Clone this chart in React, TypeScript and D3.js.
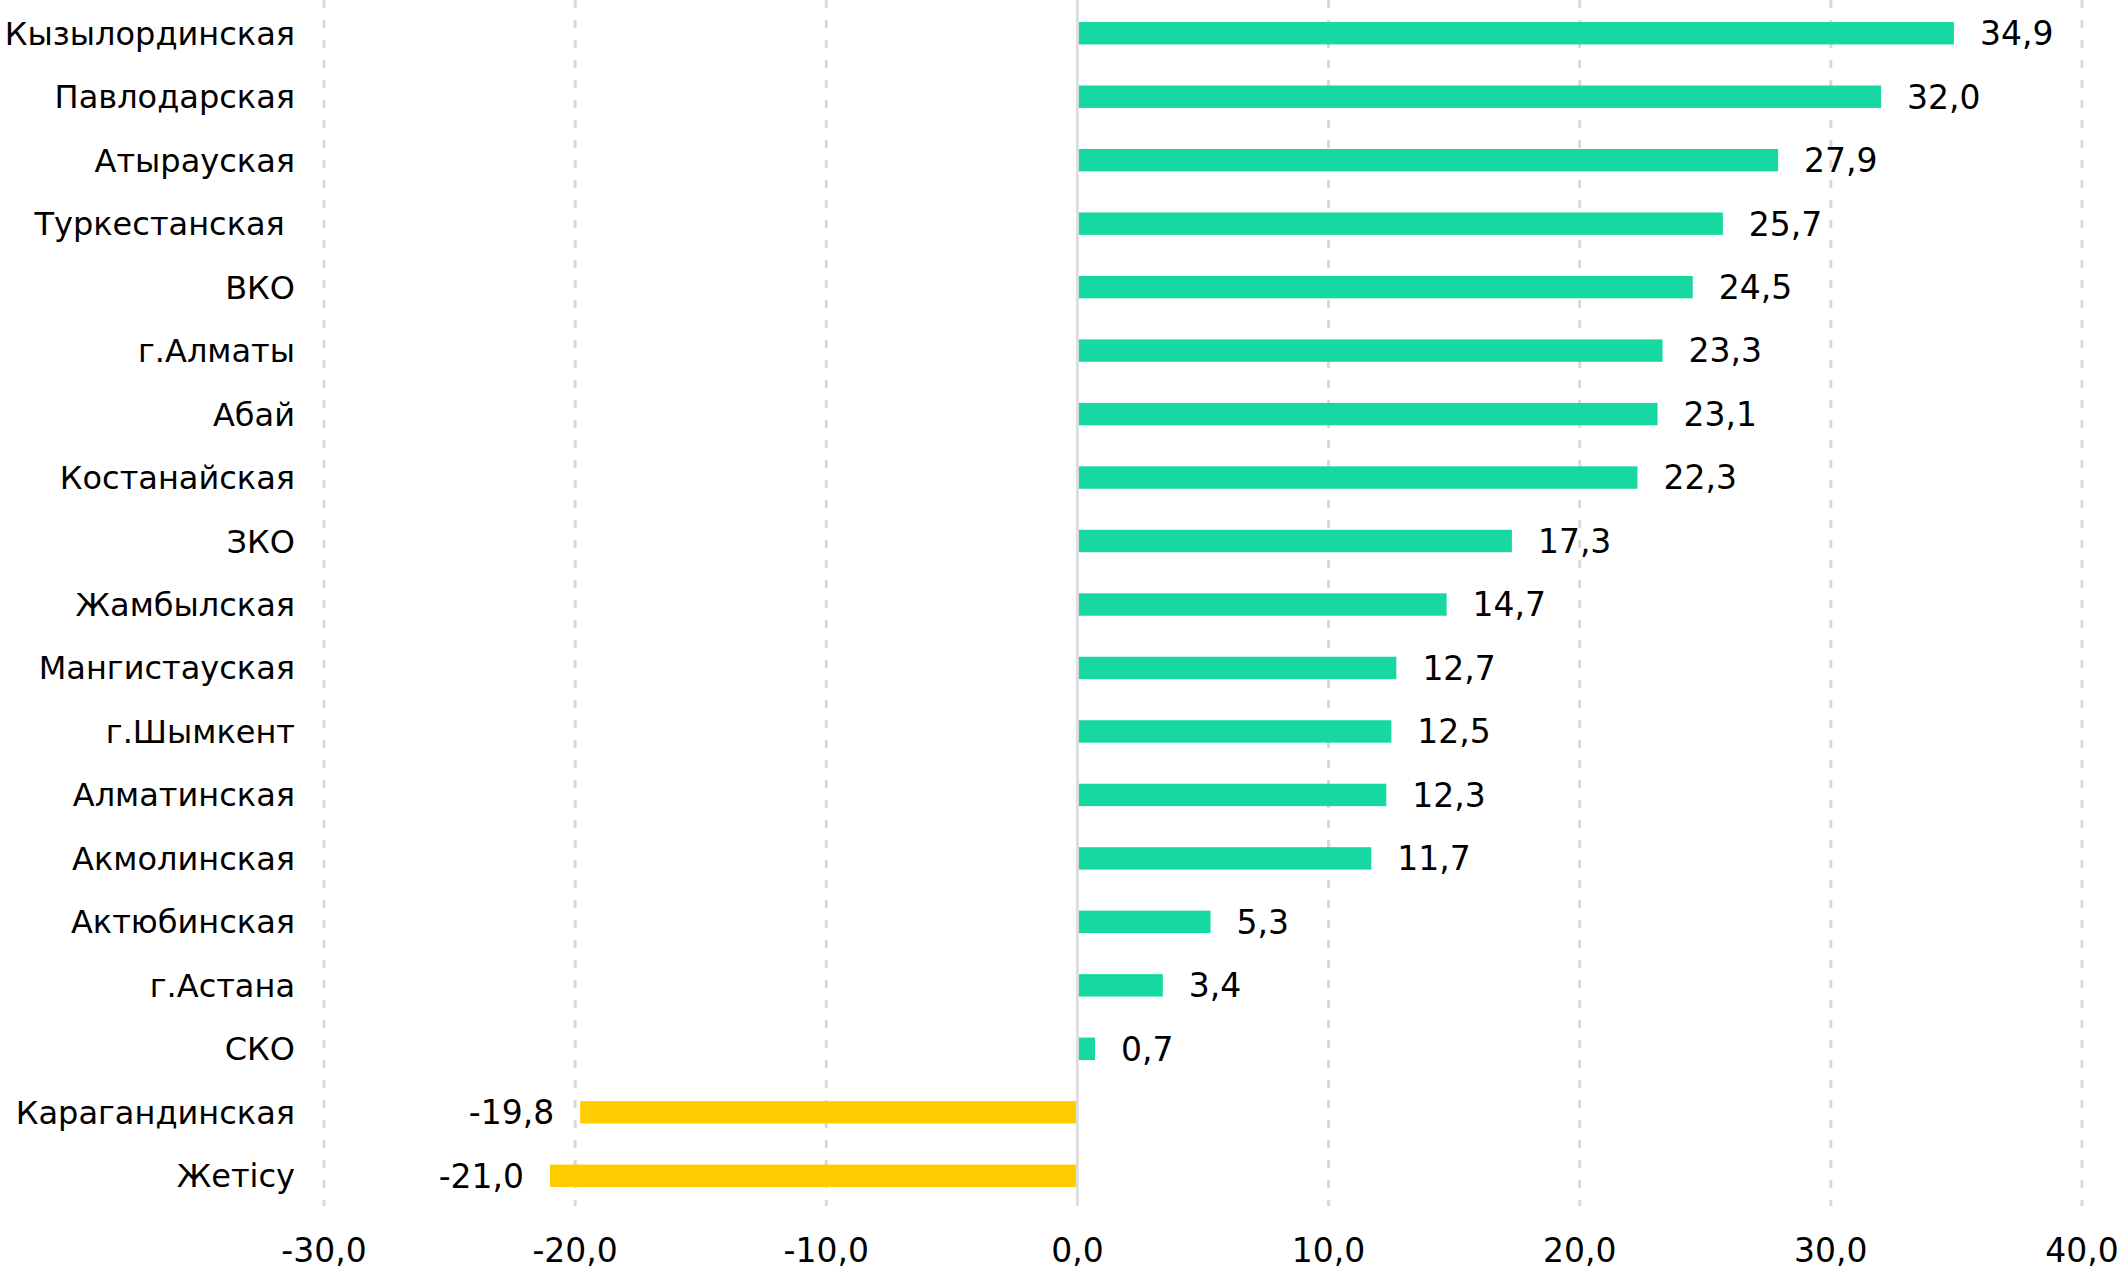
import React from "react";
import { scaleLinear, scaleBand } from "d3";

const regions = [
  "Кызылординская",
  "Павлодарская",
  "Атырауская",
  "Туркестанская ",
  "ВКО",
  "г.Алматы",
  "Абай",
  "Костанайская",
  "ЗКО",
  "Жамбылская",
  "Мангистауская",
  "г.Шымкент",
  "Алматинская",
  "Акмолинская",
  "Актюбинская",
  "г.Астана",
  "СКО",
  "Карагандинская",
  "Жетісу",
];

const values = [
  34.9, 32.0, 27.9, 25.7, 24.5, 23.3, 23.1, 22.3, 17.3, 14.7, 12.7, 12.5, 12.3,
  11.7, 5.3, 3.4, 0.7, -19.8, -21.0,
];

const xTicks = [-30, -20, -10, 0, 10, 20, 30, 40];

const WIDTH = 2119;
const HEIGHT = 1269;
const FONT = "'DejaVu Sans', Verdana, sans-serif";
const FONT_SIZE = 33;
const LABEL_SIZE = 32;

const fmt = (v: number) => v.toFixed(1).replace(".", ",");

export default function App() {
  const x = scaleLinear().domain([-30, 40]).range([324, 2082]);
  const y = scaleBand<string>().domain(regions).range([1.5, 1207.5]).padding(0);
  const barH = y.bandwidth() * 0.353;
  const plotBottom = 1206;

  return (
    <svg
      width={WIDTH}
      height={HEIGHT}
      style={{ position: "absolute", left: 0, top: 0, background: "white" }}
      fontFamily={FONT}
    >
      {/* gridlines */}
      {xTicks
        .filter((t) => t !== 0)
        .map((t) => (
          <line
            key={t}
            x1={x(t)}
            x2={x(t)}
            y1={0}
            y2={plotBottom}
            stroke="#D9D9D9"
            strokeWidth={3}
            strokeDasharray="8 12"
          />
        ))}

      {/* bars */}
      {regions.map((r, i) => {
        const v = values[i];
        const cy = (y(r) ?? 0) + y.bandwidth() / 2;
        return (
          <rect
            key={r}
            x={Math.min(x(0), x(v))}
            y={cy - barH / 2}
            width={Math.abs(x(v) - x(0))}
            height={barH}
            fill={v >= 0 ? "#17D8A0" : "#FFCC00"}
          />
        );
      })}

      {/* zero line */}
      <line
        x1={x(0)}
        x2={x(0)}
        y1={0}
        y2={plotBottom}
        stroke="#DEDEDE"
        strokeWidth={3}
      />

      {/* value labels */}
      {regions.map((r, i) => {
        const v = values[i];
        const cy = (y(r) ?? 0) + y.bandwidth() / 2;
        return (
          <text
            key={r}
            x={v >= 0 ? x(v) + 26 : x(v) - 26}
            y={cy}
            dy="0.36em"
            textAnchor={v >= 0 ? "start" : "end"}
            fontSize={FONT_SIZE}
            fill="#000"
          >
            {fmt(v)}
          </text>
        );
      })}

      {/* category labels */}
      {regions.map((r) => (
        <text
          key={r}
          x={295}
          y={(y(r) ?? 0) + y.bandwidth() / 2}
          dy="0.36em"
          textAnchor="end"
          fontSize={LABEL_SIZE}
          fill="#000"
          xmlSpace="preserve"
          style={{ whiteSpace: "pre" }}
        >
          {r}
        </text>
      ))}

      {/* x tick labels */}
      {xTicks.map((t) => (
        <text
          key={t}
          x={x(t)}
          y={1262}
          textAnchor="middle"
          fontSize={FONT_SIZE}
          fill="#000"
        >
          {fmt(t)}
        </text>
      ))}
    </svg>
  );
}
